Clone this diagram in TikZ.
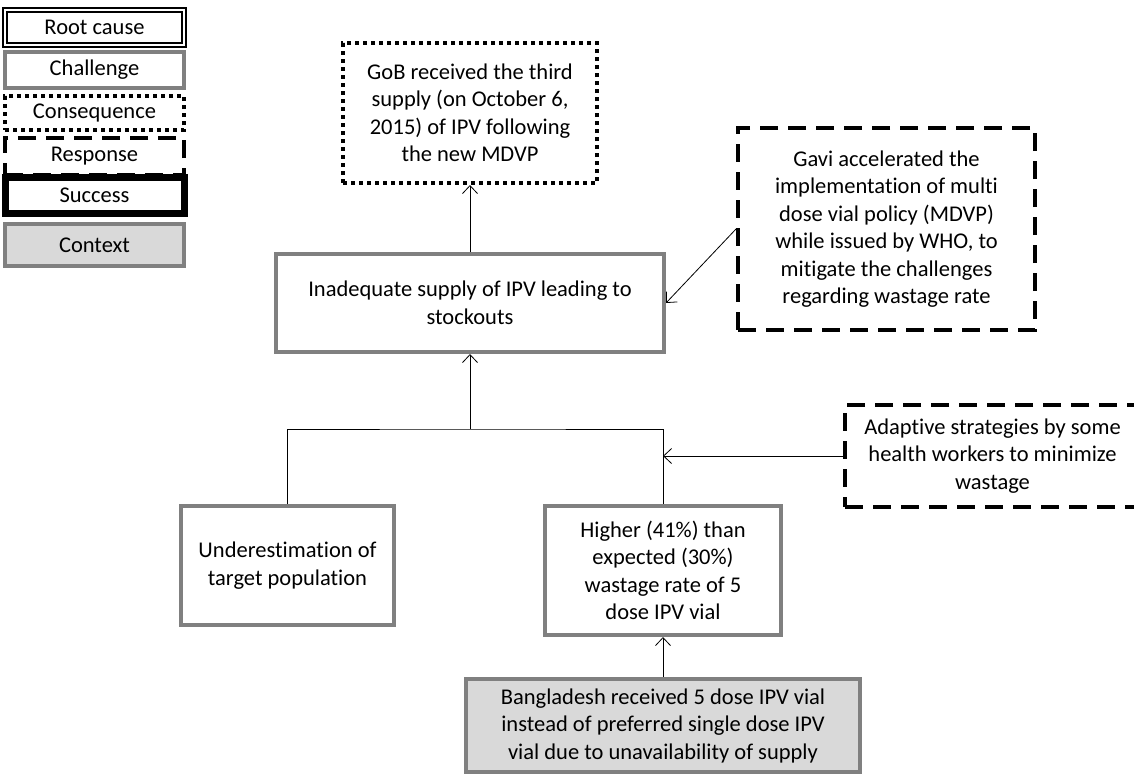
\documentclass[tikz,border=0pt]{standalone}
\usepackage{fontspec}
\setmainfont{Carlito}[Ligatures=NoCommon]
\usetikzlibrary{arrows.meta}
\definecolor{boxgray}{HTML}{808080}
\definecolor{ctxfill}{HTML}{D9D9D9}
\begin{document}
\begin{tikzpicture}[x=1pt,y=-1pt,
    every node/.style={font=\fontsize{22.5}{27.5}\selectfont, align=center, inner sep=0pt},
    rootbox/.style={draw, double, line width=1.8pt, double distance=2.4pt},
    challbox/.style={draw=boxgray, line width=4pt},
    conseqbox/.style={draw, line width=4pt, dash pattern=on 4pt off 4pt},
    respbox/.style={draw, line width=4pt, dash pattern=on 18pt off 10pt},
    succbox/.style={draw, line width=7pt},
    ctxbox/.style={draw=boxgray, fill=ctxfill, line width=4pt},
    link/.style={line width=0.8pt, -{Straight Barb[length=8pt,width=15pt]}}]
  \useasboundingbox (0,0) rectangle (1134,774);
  \clip (0,0) rectangle (1134,774);

  % legend
  \node[rootbox, minimum width=179pt, minimum height=35pt] (rootcause) at (94.5,27.5) {Root cause};
  \node[challbox, minimum width=179pt, minimum height=36pt] (challenge) at (94.5,70) {Challenge};
  \node[conseqbox, minimum width=179pt, minimum height=34pt] (consequence) at (94.5,113) {Consequence};
  \node[respbox, minimum width=179pt, minimum height=37pt] (response) at (94.5,156.5) {Response};
  \node[succbox, minimum width=179pt, minimum height=36pt] (success) at (94.5,195.5) {Success};
  \node[ctxbox, minimum width=179pt, minimum height=42pt] (context) at (94.5,245) {Context};

  % diagram
  \node[conseqbox, minimum width=254pt, minimum height=140pt] (mdvp) at (470,113)
    {GoB received the third\\supply (on October 6,\\2015) of IPV following\\the new MDVP};
  \node[challbox, minimum width=388pt, minimum height=98pt] (stockout) at (470,303)
    {Inadequate supply of IPV leading to\\stockouts};
  \node[respbox, minimum width=297pt, minimum height=202pt] (gavi) at (886.5,229)
    {Gavi accelerated the\\implementation of multi\\dose vial policy (MDVP)\\while issued by WHO, to\\mitigate the challenges\\regarding wastage rate};
  \node[respbox, minimum width=295pt, minimum height=102pt] (adaptive) at (992.5,456)
    {Adaptive strategies by some\\health workers to minimize\\wastage};
  \node[challbox, minimum width=213pt, minimum height=119pt] (underest) at (287.5,565.5)
    {Underestimation of\\target population};
  \node[challbox, minimum width=236pt, minimum height=129pt] (wastage) at (663,570.5)
    {Higher (41\%) than\\expected (30\%)\\wastage rate of 5\\dose IPV vial};
  \node[ctxbox, minimum width=394pt, minimum height=93pt] (bangla) at (663,725.5)
    {Bangladesh received 5 dose IPV vial\\instead of preferred single dose IPV\\vial due to unavailability of supply};
  \coordinate (split) at (470,429);

  \draw[link] (stockout.north) -- (mdvp.south);
  \draw[link] (gavi.west) -- (stockout.east);
  \draw[link] (split) -- (stockout.south);
  \draw[line width=0.8pt] (underest.north) |- (split) -| (wastage.north);
  \draw[link] (adaptive.west) -- (adaptive.west -| wastage.north);
  \draw[link] (bangla.north) -- (wastage.south);
\end{tikzpicture}
\end{document}
